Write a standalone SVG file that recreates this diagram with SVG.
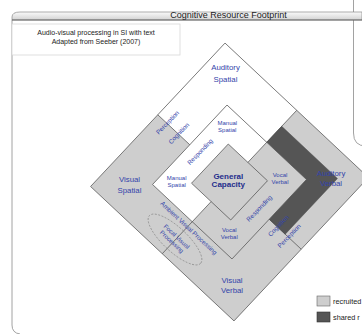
<svg xmlns="http://www.w3.org/2000/svg" width="362" height="334" viewBox="0 0 362 334">
<defs>
<linearGradient id="bar" x1="0" y1="0" x2="0" y2="1">
<stop offset="0" stop-color="#fafafa"/>
<stop offset="1" stop-color="#d2d2d2"/>
</linearGradient>
<style>
.frame{fill:none;stroke:#8a8a8a;stroke-width:0.8}
.ln{fill:none;stroke:#4a4a4a;stroke-width:0.7}
.gray{fill:#cecece}
.white{fill:#ffffff}
.dark{fill:#555555}
.lbl{font-family:"Liberation Sans",Arial,sans-serif;fill:#3344aa;text-anchor:middle}
.big{font-size:7.8px}
.sm{font-size:6px}
.rot{font-size:6.3px}
.gc{font-family:"Liberation Sans",Arial,sans-serif;font-size:8px;font-weight:bold;fill:#1f2d8c;text-anchor:middle}
.info{font-family:"Liberation Sans",Arial,sans-serif;font-size:7px;fill:#222;text-anchor:middle}
.leg{font-family:"Liberation Sans",Arial,sans-serif;font-size:7.3px;fill:#222}
</style>
</defs>
<rect width="362" height="334" fill="#ffffff"/>
<!-- background frames -->
<g id="frames">
<path class="frame" d="M353.5,0 V133 Q353.5,146 366,146"/>
<path class="frame" d="M12,20 V325 Q12,333 20,334"/>
<path d="M12,20 V17 Q12,12 20,12 H362 V20 Z" fill="url(#bar)" stroke="#8a8a8a" stroke-width="0.7"/>
<line x1="12" y1="20" x2="362" y2="20" stroke="#555" stroke-width="0.8"/>
<text x="228.5" y="18" font-family="'Liberation Sans',Arial,sans-serif" font-size="9" fill="#222" text-anchor="middle">Cognitive Resource Footprint</text>
</g>
<g id="info">
<rect x="12" y="24" width="168" height="31" fill="#ffffff" stroke="#d8d8d8" stroke-width="0.8"/>
<text class="info" x="96" y="35">Audio-visual processing in SI with text</text>
<text class="info" x="96" y="44">Adapted from Seeber (2007)</text>
</g>
<!-- footprint shapes -->
<g id="footprint" transform="translate(229.5,182) rotate(-1.85)">
<polygon id="outer" class="gray" points="0,-139 139,0 0,139 -139,0"/>
<polygon id="auditory-spatial" class="white" points="0,-139 69.5,-69.5 0,0 -69.5,-69.5"/>
<polygon id="shared-band" class="dark" stroke="#505050" stroke-width="0.5" points="54,-54 108,0 54,54 38.5,38.5 77,0 38.5,-38.5"/>
<polygon id="middle" class="gray" points="0,-77 77,0 0,77 -77,0"/>
<polygon id="manual-spatial" class="white" points="38.5,-38.5 0,-77 -77,0 -38.5,38.5 0,0"/>
<polygon id="general-capacity" class="gray" points="0,-38 38,0 0,38 -38,0"/>
<g id="connectors">
<polygon class="ln" points="0,-139 139,0 0,139 -139,0"/>
<polygon class="ln" points="0,-77 77,0 0,77 -77,0"/>
<polygon class="ln" points="0,-38 38,0 0,38 -38,0"/>
<line class="ln" x1="-69.5" y1="-69.5" x2="-38.5" y2="-38.5"/>
<line class="ln" x1="69.5" y1="-69.5" x2="19" y2="-19"/>
<line class="ln" x1="-69.5" y1="69.5" x2="-19" y2="19"/>
<line class="ln" x1="69.5" y1="69.5" x2="38.5" y2="38.5"/>
</g>
</g>
<ellipse id="focal" cx="175" cy="239.5" rx="35" ry="12" transform="rotate(43 175 239.5)" fill="none" stroke="#777" stroke-width="0.6" stroke-dasharray="2 1.5"/>
<!-- labels -->
<g id="labels">
<text class="lbl big" x="225.5" y="70">Auditory</text>
<text class="lbl big" x="225.5" y="82">Spatial</text>
<text class="lbl big" x="129.5" y="182">Visual</text>
<text class="lbl big" x="129.5" y="193">Spatial</text>
<text class="lbl big" x="331" y="175.5">Auditory</text>
<text class="lbl big" x="331" y="186">Verbal</text>
<text class="lbl big" x="232" y="282.5">Visual</text>
<text class="lbl big" x="232" y="293">Verbal</text>
<text class="lbl sm" x="227.3" y="125">Manual</text>
<text class="lbl sm" x="227.3" y="131.5">Spatial</text>
<text class="lbl sm" x="176.7" y="180">Manual</text>
<text class="lbl sm" x="176.7" y="187">Spatial</text>
<text class="lbl sm" x="280" y="177.3">Vocal</text>
<text class="lbl sm" x="280" y="184">Verbal</text>
<text class="lbl sm" x="229.3" y="232">Vocal</text>
<text class="lbl sm" x="229.3" y="238.5">Verbal</text>
<text class="gc" x="228.3" y="179">General</text>
<text class="gc" x="228.3" y="187">Capacity</text>
<text class="lbl rot" transform="translate(167.5,122.5) rotate(-46)" y="2.2">Perception</text>
<text class="lbl rot" transform="translate(178.8,133.3) rotate(-46)" y="2.2">Cognition</text>
<text class="lbl rot" transform="translate(200,151.7) rotate(-46)" y="2.2">Responding</text>
<text class="lbl rot" transform="translate(259.2,208.3) rotate(-46)" y="2.2">Responding</text>
<text class="lbl rot" transform="translate(278.3,225.8) rotate(-46)" y="2.2">Cognition</text>
<text class="lbl rot" transform="translate(289.2,235.8) rotate(-46)" y="2.2">Perception</text>
<text class="lbl rot" transform="translate(188.8,228) rotate(43)" y="2.2">Ambient Visual Processing</text>
<g transform="translate(174.2,239.2) rotate(43)">
<text class="lbl sm" x="0" y="-1.5">Focal Visual</text>
<text class="lbl sm" x="0" y="5.5">Processing</text>
</g>
</g>
<g id="legend">
<rect x="317" y="296" width="13" height="10" fill="#cecece" stroke="#666" stroke-width="0.6"/>
<text class="leg" x="333" y="303.5">recruited</text>
<rect x="317" y="312" width="13" height="10" fill="#555" stroke="#333" stroke-width="0.6"/>
<text class="leg" x="333" y="319.5">shared r</text>
</g>
</svg>
